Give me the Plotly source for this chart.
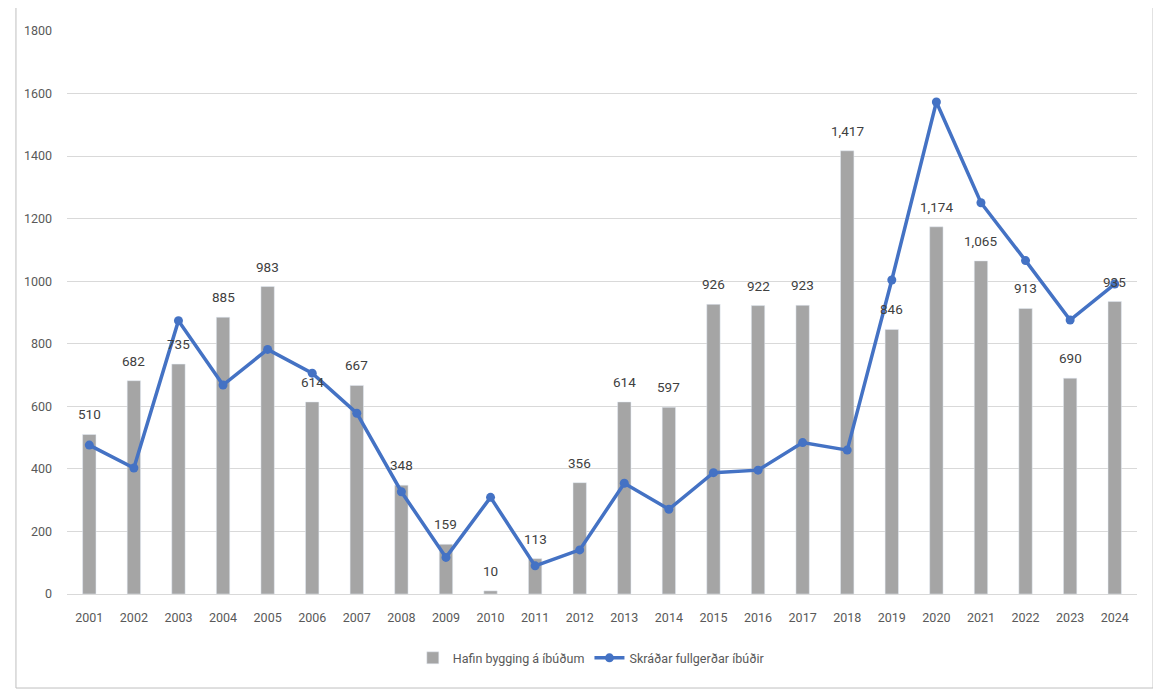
import plotly.graph_objects as go

years = [str(y) for y in range(2001, 2025)]
started = [510, 682, 735, 885, 983, 614, 667, 348, 159, 10, 113, 356, 614, 597,
           926, 922, 923, 1417, 846, 1174, 1065, 913, 690, 935]
completed = [476, 403, 874, 668, 782, 706, 578, 327, 117, 309, 90, 141, 354, 271,
             388, 396, 484, 460, 1004, 1573, 1251, 1066, 876, 991]
y_ticks = [0, 200, 400, 600, 800, 1000, 1200, 1400, 1600, 1800]

FONT = "Roboto, Liberation Sans, sans-serif"

fig = go.Figure()
fig.add_trace(go.Bar(
    x=years, y=started, name="Hafin bygging á íbúðum",
    marker=dict(color="#A5A5A5"),
))
fig.add_trace(go.Scatter(
    x=years, y=completed, name="Skráðar fullgerðar íbúðir",
    mode="lines+markers",
    line=dict(color="#4472C4", width=3.5),
    marker=dict(color="#4472C4", size=9),
))

# data labels above the bars (category index on the category axis)
for i, v in enumerate(started):
    fig.add_annotation(x=i, y=v, text=f"{v:,}", showarrow=False,
                       yanchor="middle", yshift=20,
                       font=dict(family=FONT, size=13.5, color="#404040"))

# body has an 8px default margin, so the figure is sized to fit inside it
fig.update_layout(
    width=1153, height=682,
    margin=dict(l=59, r=24, t=23, b=96),
    paper_bgcolor="white", plot_bgcolor="white",
    bargap=0.7,
    font=dict(family=FONT, size=12, color="#595959"),
    showlegend=True,
    legend=dict(orientation="h", x=0.49, xanchor="center", y=-0.114, yanchor="middle",
                font=dict(family=FONT, size=12.5, color="#595959"),
                traceorder="normal"),
    shapes=[dict(type="rect", xref="paper", yref="paper",
                 x0=-0.0477, x1=1.015, y0=-0.167, y1=1.0426,
                 line=dict(color="#BFBFBF", width=1), fillcolor="rgba(0,0,0,0)",
                 layer="below")],
)
fig.update_xaxes(
    type="category", range=[-0.5, 23.5], showgrid=False, showline=True,
    linecolor="#D9D9D9", linewidth=1, ticks="", ticklabelstandoff=12,
    tickfont=dict(family=FONT, size=12.5, color="#595959"),
)
fig.update_yaxes(
    range=[0, 1800], tickvals=y_ticks, showgrid=True, gridcolor="#D9D9D9", gridwidth=1,
    zeroline=False, showline=False, ticks="", ticklabelstandoff=14,
    tickfont=dict(family=FONT, size=12.5, color="#595959"),
)

fig.write_html("out.html")
